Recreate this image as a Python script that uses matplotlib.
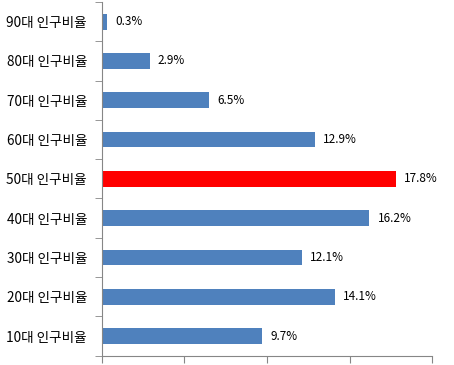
import matplotlib
matplotlib.use('Agg')
import matplotlib.pyplot as plt
import numpy as np

plt.rcParams['font.family'] = ['Noto Sans CJK KR', 'DejaVu Sans']

categories = ['10대 인구비율', '20대 인구비율', '30대 인구비율', '40대 인구비율',
              '50대 인구비율', '60대 인구비율', '70대 인구비율', '80대 인구비율',
              '90대 인구비율']
values = [9.7, 14.1, 12.1, 16.2, 17.8, 12.9, 6.5, 2.9, 0.3]
highlight = '50대 인구비율'

blue = '#4f81bd'
red = '#ff0000'
axis_grey = '#868686'

fig = plt.figure(figsize=(4.54, 3.65), dpi=100)
ax = fig.add_axes([0.224, 0.0255, 0.728, 0.969])

y = np.arange(len(categories))
colors = [red if c == highlight else blue for c in categories]
ax.barh(y, values, height=0.4, color=colors)

for yi, v in zip(y, values):
    ax.text(v + 0.5, yi, f'{v}%', va='center', ha='left', fontsize=8.5)

ax.set_xlim(0, 20)
ax.set_ylim(-0.5, len(categories) - 0.5)
ax.set_xticks([0, 5, 10, 15, 20])
ax.set_xticklabels([])
ax.set_yticks(y)
ax.set_yticklabels(categories, fontsize=9.8)
ax.set_yticks(np.arange(-0.5, len(categories), 1), minor=True)
ax.tick_params(axis='y', which='major', length=0, pad=10.5)
ax.tick_params(axis='y', which='minor', length=5, color=axis_grey)
ax.tick_params(axis='x', length=5, color=axis_grey, direction='out')

for s in ['top', 'right']:
    ax.spines[s].set_visible(False)
for s in ['left', 'bottom']:
    ax.spines[s].set_color(axis_grey)

fig.savefig('out.png', dpi=100)
